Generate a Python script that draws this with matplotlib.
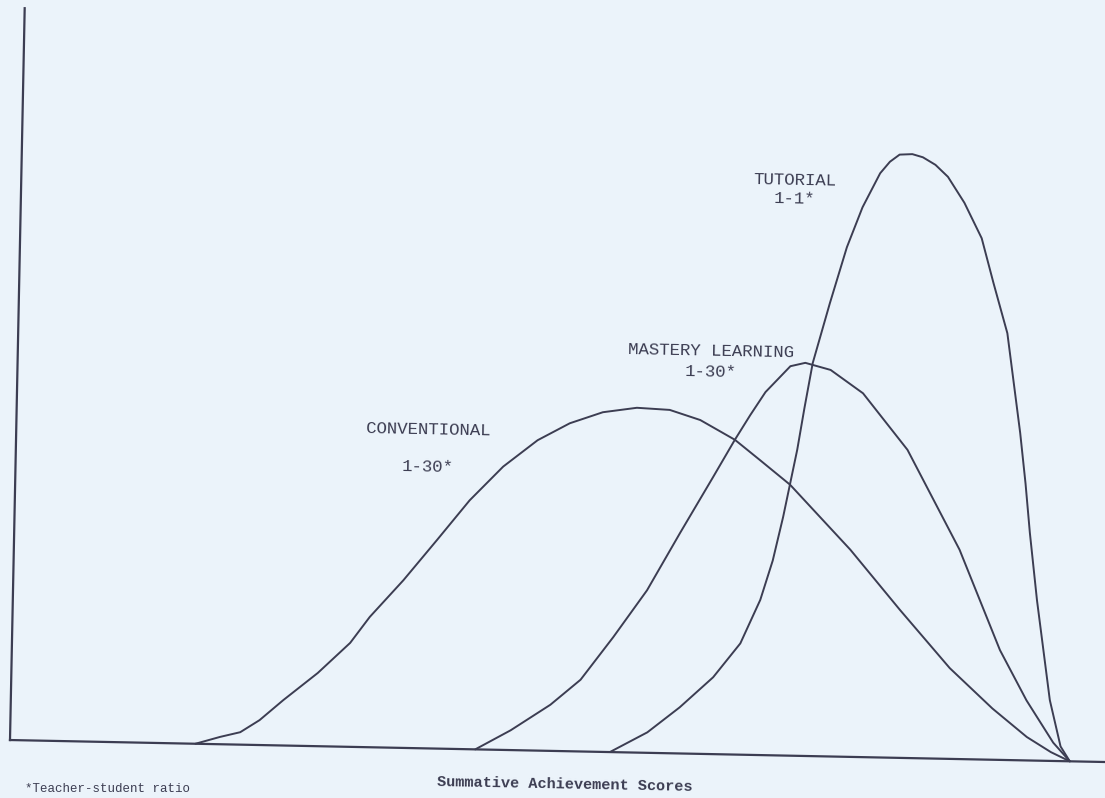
import matplotlib
matplotlib.use("Agg")
import matplotlib.pyplot as plt
from matplotlib.transforms import Affine2D

# Summative achievement score (0-100) and relative frequency (0-100)
conv_x = [17.5, 19.8, 21.7, 23.5, 25.7, 28.9, 31.9, 33.7, 36.8, 39.9, 42.9,
          46.0, 49.2, 52.2, 55.3, 58.5, 61.6, 64.5, 67.8, 70.2, 73.1, 78.9,
          83.7, 88.5, 92.6, 95.9, 98.2, 100.0]
conv_y = [0.0, 1.0, 1.7, 3.4, 6.2, 10.0, 14.2, 17.8, 22.9, 28.5, 34.0,
          38.7, 42.4, 44.8, 46.4, 47.1, 46.9, 45.6, 43.0, 40.3, 37.0, 28.3,
          20.2, 12.4, 7.0, 3.2, 1.2, 0.0]

mast_x = [43.9, 47.2, 50.9, 53.7, 56.7, 59.8, 62.8, 65.8, 67.8, 69.2, 70.6,
          72.9, 74.3, 76.7, 79.8, 84.1, 89.2, 91.2, 93.2, 95.8, 98.4, 100.0]
mast_y = [0.0, 2.7, 6.3, 9.8, 15.7, 22.2, 30.1, 37.8, 43.0, 46.4, 49.6,
          53.2, 53.7, 52.8, 49.7, 42.1, 28.6, 21.8, 15.0, 8.2, 2.5, 0.0]

tut_x = [56.6, 60.1, 63.1, 66.2, 68.7, 70.5, 71.6, 72.5, 73.1, 73.7, 74.3,
         75.0, 76.5, 78.0, 79.4, 81.0, 81.9, 82.8, 84.0, 85.0, 86.2, 87.4,
         89.0, 90.7, 91.9, 93.3, 94.0, 94.7, 95.3, 95.8, 96.6, 97.3, 98.0,
         99.1, 100.0]
tut_y = [0.0, 2.8, 6.3, 10.5, 15.2, 21.2, 26.6, 32.6, 37.2, 41.8, 47.5,
         53.7, 61.9, 69.6, 75.1, 79.8, 81.4, 82.4, 82.5, 82.1, 81.1, 79.5,
         76.0, 71.2, 65.1, 58.3, 51.5, 44.7, 37.8, 31.1, 21.9, 15.1, 8.3,
         2.0, 0.0]

labels = ["CONVENTIONAL", "MASTERY LEARNING", "TUTORIAL"]
ratios = ["1-30*", "1-30*", "1-1*"]
label_pos = [(38.9, 43.5, 38.4), (65.4, 55.1, 52.2), (73.0, 78.6, 76.1)]

bg = "#ebf3fa"
ink = "#3c3d52"
mono = ["Liberation Mono", "DejaVu Sans Mono"]

fig = plt.figure(figsize=(11.05, 7.98), dpi=100, facecolor=bg)
ax = fig.add_axes([0, 0, 1, 1], facecolor=bg)
ax.set_xlim(-0.943, 103.3)
ax.set_ylim(-7.92, 101.1)
ax.axis("off")

# the scanned page is turned a little clockwise
tilt = Affine2D().rotate_deg_around(10, 58, -1.15)
tr = ax.transData + tilt

ax.plot([0, 0], [0, 100], color=ink, lw=1.6, transform=tr)
ax.plot([0, 104], [0, 0], color=ink, lw=1.6, transform=tr)

for xs, ys in [(conv_x, conv_y), (mast_x, mast_y), (tut_x, tut_y)]:
    ax.plot(xs, ys, color=ink, lw=1.4, transform=tr,
            solid_capstyle="round", solid_joinstyle="round")

for name, ratio, (lx, ly1, ly2) in zip(labels, ratios, label_pos):
    ax.text(lx, ly1, name, ha="center", va="center", fontsize=12.5,
            family=mono, color=ink, rotation=-1.1, transform=tr)
    ax.text(lx, ly2, ratio, ha="center", va="center", fontsize=12.5,
            family=mono, color=ink, rotation=-1.1, transform=tr)

ax.text(52.4, -4.6, "Summative Achievement Scores", ha="center", va="center",
        fontsize=11, family=mono, weight="bold", color=ink, rotation=-1.1,
        transform=tr)
ax.text(1.5, -6.6, "*Teacher-student ratio", ha="left", va="center",
        fontsize=9, family=mono, color=ink, transform=tr)

fig.savefig("out.png", dpi=100, facecolor=bg)
